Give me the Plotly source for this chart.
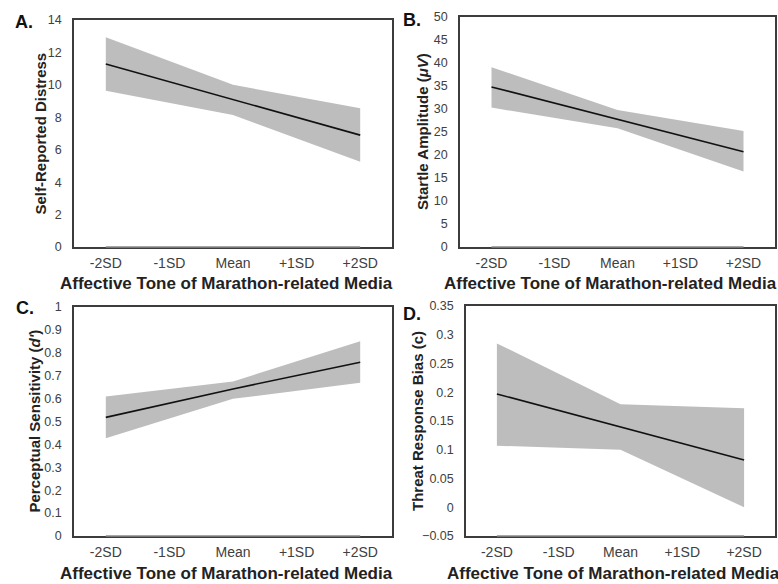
import plotly.graph_objects as go

# ---- data ----
x_levels = [-2, 0, 2]
tick_vals = [-2, -1, 0, 1, 2]
tick_labels = ["-2SD", "-1SD", "Mean", "+1SD", "+2SD"]

a_line = [11.29, 9.1, 6.9]
a_upper = [12.94, 10.0, 8.55]
a_lower = [9.64, 8.14, 5.26]

b_line = [34.8, 27.7, 20.7]
b_upper = [39.1, 29.8, 25.2]
b_lower = [30.3, 25.8, 16.4]

c_line = [0.518, 0.642, 0.759]
c_upper = [0.609, 0.675, 0.850]
c_lower = [0.427, 0.599, 0.669]

d_line = [0.197, 0.140, 0.082]
d_upper = [0.285, 0.179, 0.172]
d_lower = [0.107, 0.100, 0.000]

W, H = 778, 584

def px(x):
    return x / W

def py(y):
    return 1 - y / H

panels = [
    dict(name="A", line=a_line, up=a_upper, lo=a_lower, dom_x=(74, 392), dom_y=(20, 247),
         yr=(0, 14), dt=2, ytitle="Self-Reported Distress", ytx=40, label_xy=(24, 22)),
    dict(name="B", line=b_line, up=b_upper, lo=b_lower, dom_x=(460, 775), dom_y=(17, 247),
         yr=(0, 50), dt=5, ytitle="Startle Amplitude (<i>μV</i>)", ytx=422, label_xy=(412, 20)),
    dict(name="C", line=c_line, up=c_upper, lo=c_lower, dom_x=(74, 392), dom_y=(307, 536),
         yr=(0, 1), dt=0.1, ytitle="Perceptual Sensitivity (<i>d'</i>)", ytx=34, label_xy=(25, 308)),
    dict(name="D", line=d_line, up=d_upper, lo=d_lower, dom_x=(466, 775), dom_y=(306, 536),
         yr=(-0.05, 0.35), dt=0.05, ytitle="Threat Response Bias (c)", ytx=417, label_xy=(412, 314)),
]

fig = go.Figure()
annotations = []
shapes = []
layout = {}
FONT = "Arial, Liberation Sans, sans-serif"

for i, p in enumerate(panels):
    n = i + 1
    xa = "x" if n == 1 else f"x{n}"
    ya = "y" if n == 1 else f"y{n}"
    fig.add_trace(go.Scatter(x=x_levels, y=p["lo"], mode="lines", line=dict(width=0, color="#bfbfbf"),
                             xaxis=xa, yaxis=ya, showlegend=False, hoverinfo="skip"))
    fig.add_trace(go.Scatter(x=x_levels, y=p["up"], mode="lines", line=dict(width=0, color="#bfbfbf"),
                             fill="tonexty", fillcolor="#bdbdbd",
                             xaxis=xa, yaxis=ya, showlegend=False, hoverinfo="skip"))
    fig.add_trace(go.Scatter(x=x_levels, y=p["line"], mode="lines", line=dict(width=1.6, color="#111111"),
                             xaxis=xa, yaxis=ya, showlegend=False))
    xk = "xaxis" if n == 1 else f"xaxis{n}"
    yk = "yaxis" if n == 1 else f"yaxis{n}"
    layout[xk] = dict(domain=[px(p["dom_x"][0]), px(p["dom_x"][1])], anchor=ya, range=[-2.5, 2.5],
                      tickvals=tick_vals, ticktext=tick_labels, showgrid=False, zeroline=False,
                      showline=True, mirror=True, linecolor="#3c3c3c", linewidth=1.5,
                      ticks="", ticklabelstandoff=2, automargin=False,
                      tickfont=dict(family=FONT, size=14, color="#404040"))
    layout[yk] = dict(domain=[py(p["dom_y"][1]), py(p["dom_y"][0])], anchor=xa,
                      range=list(p["yr"]), dtick=p["dt"], tick0=p["yr"][0], showgrid=False, zeroline=False,
                      showline=True, mirror=True, linecolor="#3c3c3c", linewidth=1.5,
                      ticks="", ticklabelstandoff=8, automargin=False,
                      tickfont=dict(family=FONT, size=12.5, color="#404040"))
    # lighter inner portion of bottom axis
    shapes.append(dict(type="line", xref=xa, yref=f"{ya} domain", x0=x_levels[0], x1=x_levels[-1],
                       y0=0, y1=0, line=dict(color="#8a8a8a", width=1.5)))
    # y title
    cy = (p["dom_y"][0] + p["dom_y"][1]) / 2
    annotations.append(dict(text=f"<b>{p['ytitle']}</b>", x=px(p["ytx"]), y=py(cy), xref="paper", yref="paper",
                            textangle=-90, showarrow=False, xanchor="center", yanchor="middle",
                            font=dict(family=FONT, size=15, color="#222222")))
    # x title
    cx = (p["dom_x"][0] + p["dom_x"][1]) / 2 - 7
    annotations.append(dict(text="<b>Affective Tone of Marathon-related Media</b>", x=px(cx),
                            y=py(p["dom_y"][1] + 37), xref="paper", yref="paper", showarrow=False,
                            xanchor="center", yanchor="middle",
                            font=dict(family=FONT, size=17, color="#222222")))
    # panel label
    annotations.append(dict(text=f"<b>{p['name']}.</b>", x=px(p["label_xy"][0]), y=py(p["label_xy"][1]),
                            xref="paper", yref="paper", showarrow=False, xanchor="center", yanchor="middle",
                            font=dict(family=FONT, size=18, color="#111111")))

fig.update_layout(width=W, height=H, margin=dict(l=0, r=0, t=0, b=0, autoexpand=False),
                  plot_bgcolor="white", paper_bgcolor="white",
                  annotations=annotations, shapes=shapes, **layout)
fig.write_html(
    "out.html",
    config={"displayModeBar": False},
    post_script="document.body.style.margin='0';"
                "var g=document.getElementById('{plot_id}');"
                "g.style.position='fixed';g.style.left='0px';g.style.top='0px';",
)
